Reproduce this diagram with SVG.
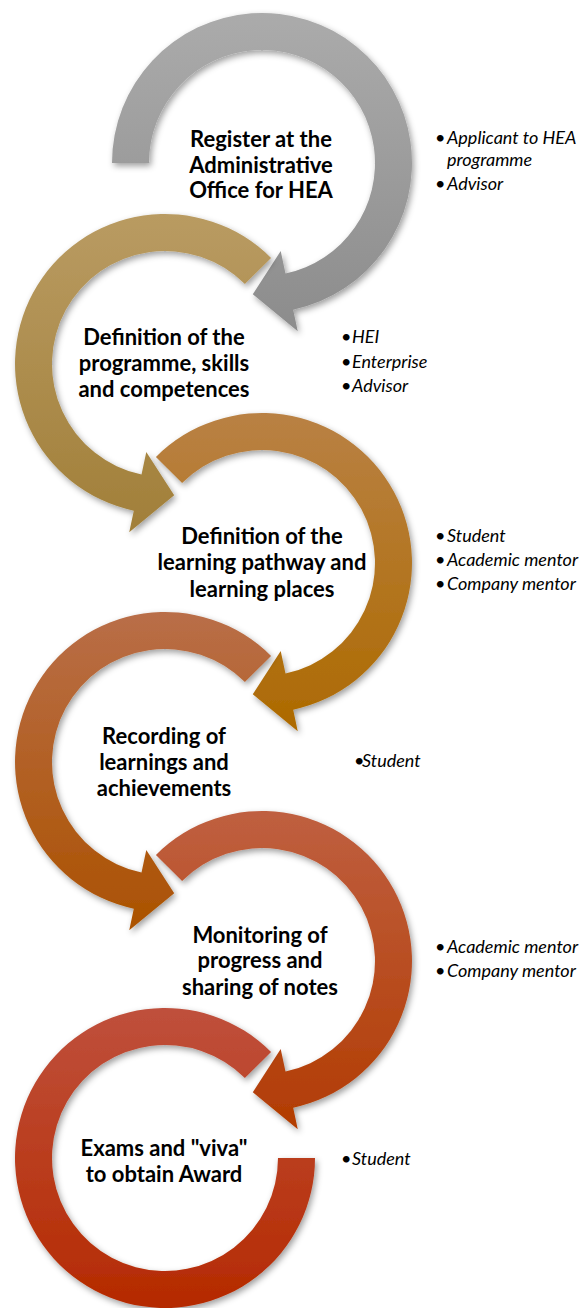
<svg xmlns="http://www.w3.org/2000/svg" width="582" height="1308" viewBox="0 0 582 1308">
<style>
.title{font-family:Lato,"Liberation Sans",sans-serif;font-weight:bold;font-size:22px;fill:#000;text-anchor:middle}
.item{font-family:Lato,"Liberation Sans",sans-serif;font-style:italic;font-size:18px;fill:#000}
.bul{font-style:normal}
.arc{filter:url(#sh)}
</style>
<defs>
<filter id="sh" x="-20%" y="-20%" width="140%" height="140%">
<feDropShadow dx="2" dy="3" stdDeviation="3" flood-color="#000" flood-opacity="0.38"/>
</filter>
<linearGradient id="g1" x1="0" y1="0" x2="0" y2="1"><stop offset="0" stop-color="#ababab"/><stop offset="1" stop-color="#8c8c8c"/></linearGradient>
<linearGradient id="g2" x1="0" y1="0" x2="0" y2="1"><stop offset="0" stop-color="#b99b62"/><stop offset="1" stop-color="#a17f39"/></linearGradient>
<linearGradient id="g3" x1="0" y1="0" x2="0" y2="1"><stop offset="0" stop-color="#b98144"/><stop offset="1" stop-color="#ad6a00"/></linearGradient>
<linearGradient id="g4" x1="0" y1="0" x2="0" y2="1"><stop offset="0" stop-color="#b96e48"/><stop offset="1" stop-color="#ab5200"/></linearGradient>
<linearGradient id="g5" x1="0" y1="0" x2="0" y2="1"><stop offset="0" stop-color="#bf5f40"/><stop offset="1" stop-color="#b23c02"/></linearGradient>
<linearGradient id="g6" x1="0" y1="0" x2="0" y2="1"><stop offset="0" stop-color="#bf503c"/><stop offset="1" stop-color="#b52a00"/></linearGradient>
</defs>
<rect width="582" height="1308" fill="#fff"/>

<g id="node1">
<path class="arc" fill="url(#g1)" d="M112,163 A150,150 0 1 1 293.19,309.72 L297.76,331.23 L252.82,294.18 L280.71,251.03 L285.49,273.53 A113,113 0 1 0 149,163 Z"/>
<text class="title" x="261" y="147">Register at the</text>
<text class="title" x="261" y="172.5">Administrative</text>
<text class="title" x="261" y="198">Office for HEA</text>
<text class="item" x="435" y="144"><tspan class="bul">•</tspan><tspan x="447">Applicant to HEA</tspan></text>
<text class="item" x="447" y="166">programme</text>
<text class="item" x="435" y="190"><tspan class="bul">•</tspan><tspan x="447">Advisor</tspan></text>
</g>

<g id="node2">
<path class="arc" fill="url(#g2)" d="M271.07,257.93 A150,150 0 1 0 133.81,510.72 L129.24,532.23 L174.18,495.18 L146.29,452.03 L141.51,474.53 A113,113 0 1 1 244.90,284.10 Z"/>
<text class="title" x="164" y="345">Definition of the</text>
<text class="title" x="164" y="370.5">programme, skills</text>
<text class="title" x="164" y="396.5">and competences</text>
<text class="item" x="341" y="343"><tspan class="bul">•</tspan><tspan x="352">HEI</tspan></text>
<text class="item" x="341" y="368"><tspan class="bul">•</tspan><tspan x="352">Enterprise</tspan></text>
<text class="item" x="341" y="392"><tspan class="bul">•</tspan><tspan x="352">Advisor</tspan></text>
</g>

<g id="node3">
<path class="arc" fill="url(#g3)" d="M155.93,456.93 A150,150 0 1 1 293.19,709.72 L297.76,731.23 L252.82,694.18 L280.71,651.03 L285.49,673.53 A113,113 0 1 0 182.10,483.10 Z"/>
<text class="title" x="262" y="544">Definition of the</text>
<text class="title" x="262" y="570">learning pathway and</text>
<text class="title" x="262" y="596.5">learning places</text>
<text class="item" x="435" y="542"><tspan class="bul">•</tspan><tspan x="447">Student</tspan></text>
<text class="item" x="435" y="566"><tspan class="bul">•</tspan><tspan x="447">Academic mentor</tspan></text>
<text class="item" x="435" y="590"><tspan class="bul">•</tspan><tspan x="447">Company mentor</tspan></text>
</g>

<g id="node4">
<path class="arc" fill="url(#g4)" d="M271.07,655.93 A150,150 0 1 0 133.81,908.72 L129.24,930.23 L174.18,893.18 L146.29,850.03 L141.51,872.53 A113,113 0 1 1 244.90,682.10 Z"/>
<text class="title" x="164" y="744">Recording of</text>
<text class="title" x="164" y="770">learnings and</text>
<text class="title" x="164" y="795.5">achievements</text>
<text class="item" x="354" y="767"><tspan class="bul">•</tspan><tspan x="362">Student</tspan></text>
</g>

<g id="node5">
<path class="arc" fill="url(#g5)" d="M155.93,854.93 A150,150 0 1 1 293.19,1107.72 L297.76,1129.23 L252.82,1092.18 L280.71,1049.03 L285.49,1071.53 A113,113 0 1 0 182.10,881.10 Z"/>
<text class="title" x="260" y="943">Monitoring of</text>
<text class="title" x="260" y="968">progress and</text>
<text class="title" x="260" y="994.5">sharing of notes</text>
<text class="item" x="435" y="953"><tspan class="bul">•</tspan><tspan x="447">Academic mentor</tspan></text>
<text class="item" x="435" y="977"><tspan class="bul">•</tspan><tspan x="447">Company mentor</tspan></text>
</g>

<g id="node6">
<path class="arc" fill="url(#g6)" d="M271.07,1051.93 A150,150 0 1 0 315,1158 L278,1158 A113,113 0 1 1 244.90,1078.10 Z"/>
<text class="title" x="164" y="1156">Exams and "viva"</text>
<text class="title" x="164" y="1181.5">to obtain Award</text>
<text class="item" x="341" y="1165"><tspan class="bul">•</tspan><tspan x="352">Student</tspan></text>
</g>

<g id="connectors"></g>
</svg>
